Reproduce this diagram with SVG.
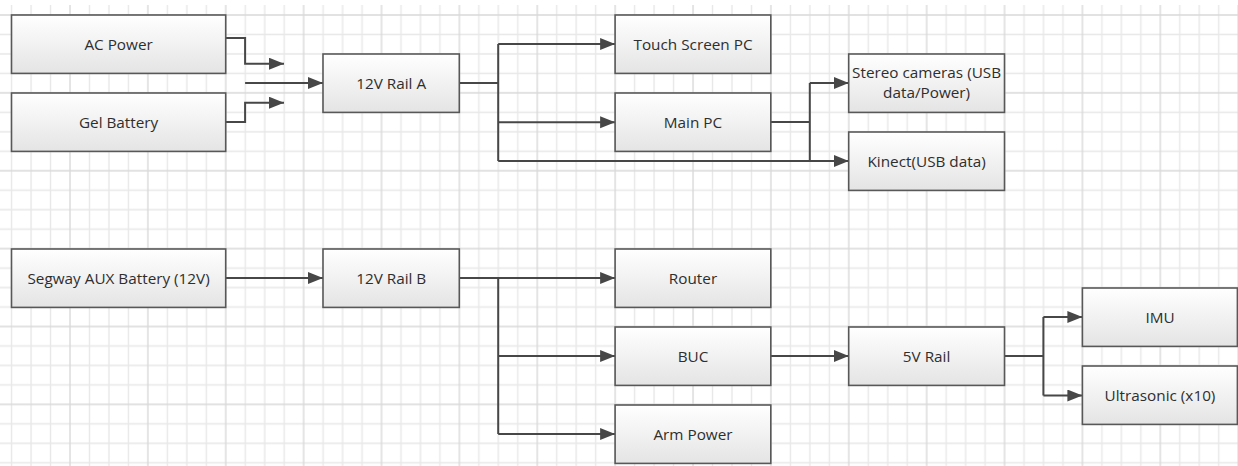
<svg xmlns="http://www.w3.org/2000/svg" width="1238" height="466" viewBox="0 0 1238 466">
<style>
.box{fill:url(#boxfill);stroke:#585858;stroke-width:1.6}
.lbl{font-family:"Open Sans","Noto Sans",sans-serif;font-size:15.3px;fill:#2e2e2e;text-anchor:middle}
.con{fill:none;stroke:#474747;stroke-width:2}
.arr{marker-end:url(#ah)}
</style>
<defs>
<linearGradient id="boxfill" x1="0" y1="0" x2="0" y2="1">
<stop offset="0" stop-color="#ffffff"/>
<stop offset="1" stop-color="#e4e4e4"/>
</linearGradient>
<pattern id="grid" patternUnits="userSpaceOnUse" x="60" y="5" width="77.88" height="77.88">
<path d="M29.47,0V77.88M48.94,0V77.88M68.41,0V77.88M0,29.47H77.88M0,48.94H77.88M0,68.41H77.88" stroke="#e8e8e8" stroke-width="1.4" fill="none"/>
<path d="M10,0V77.88M0,10H77.88" stroke="#d9d9d9" stroke-width="1.4" fill="none"/>
</pattern>
<marker id="ah" markerUnits="userSpaceOnUse" markerWidth="16" markerHeight="13" refX="15" refY="6" orient="auto">
<path d="M0,0L15,6L0,12z" fill="#474747"/>
</marker>
</defs>
<rect x="0" y="0" width="1238" height="466" fill="#ffffff"/>
<rect x="0" y="5" width="1238" height="461" fill="url(#grid)"/>
<g id="connectors">
<path class="con arr" d="M225.7,38H245.1V63.7H284"/>
<path class="con arr" d="M225.7,122H245.1V102.7H284"/>
<path class="con arr" d="M245.1,83H323"/>
<path class="con" d="M459.3,83H498.2M498.2,44V161"/>
<path class="con arr" d="M498.2,44H615.1"/>
<path class="con arr" d="M498.2,122.3H615.1"/>
<path class="con arr" d="M498.2,161H848.7"/>
<path class="con" d="M770.8,122H809.8M809.8,83V161"/>
<path class="con arr" d="M809.8,83H848.7"/>
<path class="con arr" d="M225.7,278H323"/>
<path class="con arr" d="M459.3,278H615.1"/>
<path class="con" d="M498.2,278V434"/>
<path class="con arr" d="M498.2,356H615.1"/>
<path class="con arr" d="M498.2,434H615.1"/>
<path class="con arr" d="M770.8,356H848.7"/>
<path class="con" d="M1004.5,356H1043.4M1043.4,317V395.5"/>
<path class="con arr" d="M1043.4,317H1082.4"/>
<path class="con arr" d="M1043.4,395.5H1082.4"/>
</g>
<g id="ac-power"><rect class="box" x="11.5" y="15" width="214.2" height="58.4"/><text class="lbl" x="118.6" y="49.8">AC Power</text></g>
<g id="gel-battery"><rect class="box" x="11.5" y="93" width="214.2" height="58.4"/><text class="lbl" x="118.6" y="127.8">Gel Battery</text></g>
<g id="rail-a"><rect class="box" x="323" y="54" width="136.3" height="58.4"/><text class="lbl" x="391.2" y="88.8">12V Rail A</text></g>
<g id="touch-screen-pc"><rect class="box" x="615.1" y="15" width="155.7" height="58.4"/><text class="lbl" x="693" y="49.8">Touch Screen PC</text></g>
<g id="main-pc"><rect class="box" x="615.1" y="93" width="155.7" height="58.4"/><text class="lbl" x="693" y="127.8">Main PC</text></g>
<g id="stereo-cameras"><rect class="box" x="848.7" y="54" width="155.8" height="58.4"/><text class="lbl" x="926.6" y="77.8">Stereo cameras (USB</text><text class="lbl" x="926.6" y="97.8">data/Power)</text></g>
<g id="kinect"><rect class="box" x="848.7" y="132" width="155.8" height="58.4"/><text class="lbl" x="926.6" y="166.8">Kinect(USB data)</text></g>
<g id="segway-battery"><rect class="box" x="11.5" y="249" width="214.2" height="58.4"/><text class="lbl" x="118.6" y="283.8">Segway AUX Battery (12V)</text></g>
<g id="rail-b"><rect class="box" x="323" y="249" width="136.3" height="58.4"/><text class="lbl" x="391.2" y="283.8">12V Rail B</text></g>
<g id="router"><rect class="box" x="615.1" y="249" width="155.7" height="58.4"/><text class="lbl" x="693" y="283.8">Router</text></g>
<g id="buc"><rect class="box" x="615.1" y="327" width="155.7" height="58.4"/><text class="lbl" x="693" y="361.8">BUC</text></g>
<g id="arm-power"><rect class="box" x="615.1" y="405" width="155.7" height="58.4"/><text class="lbl" x="693" y="439.8">Arm Power</text></g>
<g id="rail-5v"><rect class="box" x="848.7" y="327" width="155.8" height="58.4"/><text class="lbl" x="926.6" y="361.8">5V Rail</text></g>
<g id="imu"><rect class="box" x="1082.4" y="288" width="155" height="58.4"/><text class="lbl" x="1160" y="322.8">IMU</text></g>
<g id="ultrasonic"><rect class="box" x="1082.4" y="366" width="155" height="58.4"/><text class="lbl" x="1160" y="400.8">Ultrasonic (x10)</text></g>
</svg>
